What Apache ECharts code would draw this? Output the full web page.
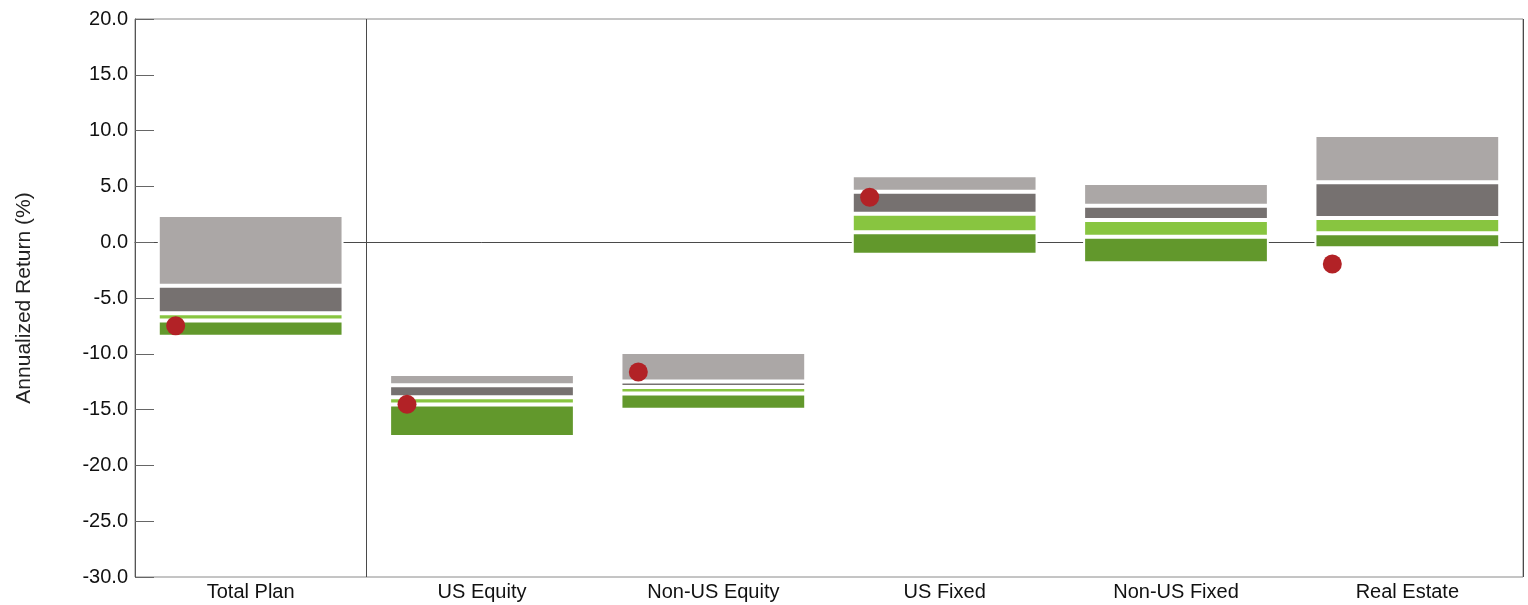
<!DOCTYPE html>
<html>
<head>
<meta charset="utf-8">
<script src="https://cdn.jsdelivr.net/npm/echarts@6/dist/echarts.min.js"></script>
<style>
  html, body { margin: 0; padding: 0; background: #ffffff; }
  #chart { width: 1528px; height: 605px; }
</style>
</head>
<body>
<div id="chart"></div>
<script>
// Peer-universe ranges of annualized return per asset class, with the plan's own result
const categories = ['Total Plan', 'US Equity', 'Non-US Equity', 'US Fixed', 'Non-US Fixed', 'Real Estate'];
const pct5  = [2.44, -11.81,  -9.84,  5.99,  5.30,  9.61];
const pct25 = [-3.91, -12.82, -12.48, 4.51,  3.26,  5.38];
const pct50 = [-6.37, -13.90, -12.97, 2.55,  1.98,  2.17];
const pct75 = [-7.02, -14.54, -13.56, 0.90,  0.48,  0.80];
const pct95 = [-8.47, -17.46, -15.01, -1.12, -1.89, -0.55];
const planReturn = [-7.48, -14.53, -11.63, 4.02, null, -1.95];
const yTicks = { min: -30, max: 20, interval: 5 };

const FONT = "'Liberation Sans', Arial, sans-serif";

const diff = (hi, lo) => hi.map((v, i) => +(v - lo[i]).toFixed(2));

// Floating boxes: an invisible base up to the 95th percentile, then one band per quartile
const bands = [
  { name: 'base', data: pct95, color: 'transparent', border: 0 },
  { name: '75th-95th', data: diff(pct75, pct95), color: '#62982c', border: 2 },
  { name: 'Median-75th', data: diff(pct50, pct75), color: '#88c540', border: 2 },
  { name: '25th-Median', data: diff(pct25, pct50), color: '#767170', border: 2 },
  { name: '5th-25th', data: diff(pct5, pct25), color: '#aba7a6', border: 2 }
];

const barSeries = bands.map(b => ({
  name: b.name,
  type: 'bar',
  stack: 'range',
  stackStrategy: 'all',
  xAxisIndex: 0,
  yAxisIndex: 0,
  barWidth: '80.3%',
  silent: true,
  z: 2,
  itemStyle: {
    color: b.color,
    borderColor: b.border ? '#ffffff' : 'transparent',
    borderWidth: b.border
  },
  data: b.data
}));

const chart = echarts.init(document.getElementById('chart'), null, { renderer: 'canvas' });

chart.setOption({
  animation: false,
  backgroundColor: '#ffffff',
  grid: {
    left: 135, right: 5, top: 19, bottom: 28,
    show: true,
    borderColor: '#8a8a8a',
    borderWidth: 1,
    backgroundColor: 'transparent'
  },
  xAxis: [
    {
      type: 'category',
      data: categories,
      position: 'bottom',
      axisLine: { show: false, onZero: false },
      axisTick: { show: false },
      splitLine: { show: false },
      axisLabel: {
        color: '#111111',
        fontFamily: FONT,
        fontSize: 20,
        margin: 5,
        interval: 0
      }
    },
    {
      // zero line plus the divider after the total-plan column
      type: 'category',
      data: categories,
      position: 'bottom',
      axisLine: { show: true, onZero: true, onZeroAxisIndex: 0, lineStyle: { color: '#4a4a4a', width: 1 } },
      axisTick: { show: false },
      axisLabel: { show: false },
      splitLine: {
        show: true,
        interval: (i) => i <= 1,
        lineStyle: { color: '#4a4a4a', width: 1 }
      }
    }
  ],
  yAxis: {
    type: 'value',
    min: yTicks.min,
    max: yTicks.max,
    interval: yTicks.interval,
    name: 'Annualized Return (%)',
    nameLocation: 'middle',
    nameRotate: 90,
    nameGap: 100,
    nameTextStyle: { color: '#222222', fontFamily: FONT, fontSize: 21 },
    axisLine: { show: true, lineStyle: { color: '#555555', width: 1 } },
    axisTick: { show: true, inside: true, length: 19, lineStyle: { color: '#666666', width: 1 } },
    splitLine: { show: false },
    axisLabel: {
      color: '#111111',
      fontFamily: FONT,
      fontSize: 20,
      margin: 7,
      formatter: (v) => v.toFixed(1)
    }
  },
  series: barSeries.concat([
    {
      name: 'Plan',
      type: 'scatter',
      xAxisIndex: 0,
      yAxisIndex: 0,
      symbol: 'circle',
      symbolSize: 19,
      symbolOffset: [-75, 0],
      z: 5,
      silent: true,
      itemStyle: { color: '#b22226', opacity: 1 },
      data: planReturn.map(v => (v === null ? '-' : v))
    }
  ])
});
</script>
</body>
</html>
